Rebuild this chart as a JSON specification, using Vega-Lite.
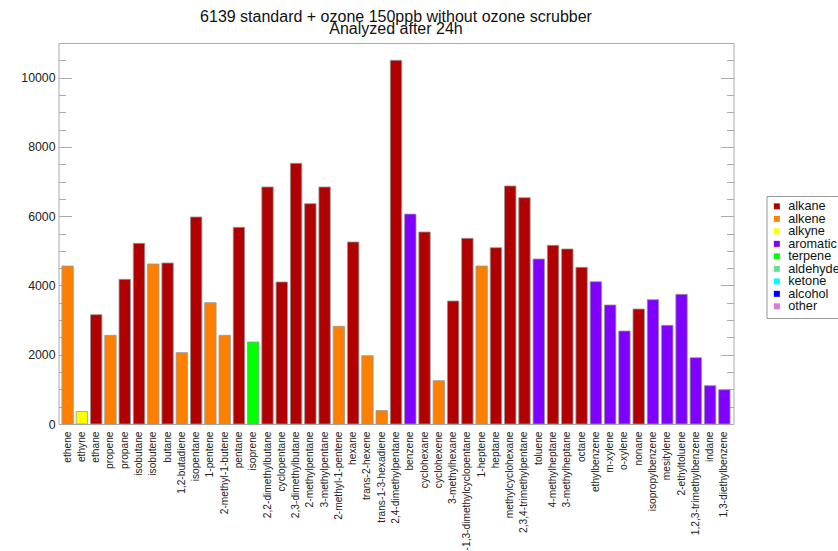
{
  "$schema": "https://vega.github.io/schema/vega-lite/v6.json",
  "autosize": {"type": "none"},
  "width": 675,
  "height": 381,
  "padding": {"left": 58.5, "top": 43, "right": 105, "bottom": 127},
  "background": "white",
  "title": {
    "text": ["6139 standard + ozone 150ppb without ozone scrubber", "Analyzed after 24h"],
    "font": "Liberation Sans",
    "fontSize": 16,
    "fontWeight": "normal",
    "color": "#111111",
    "lineHeight": 12.5,
    "anchor": "middle",
    "baseline": "bottom",
    "offset": -10
  },
  "config": {
    "view": {"stroke": "#aaaaaa", "strokeWidth": 1},
    "font": "Liberation Sans",
    "legend": {"rowPadding": -1.5, "gridAlign": "none"}
  },
  "data": {
    "values": [
      {"compound": "ethene", "class": "alkene", "area": 4560},
      {"compound": "ethyne", "class": "alkyne", "area": 360},
      {"compound": "ethane", "class": "alkane", "area": 3157},
      {"compound": "propene", "class": "alkene", "area": 2560},
      {"compound": "propane", "class": "alkane", "area": 4177},
      {"compound": "isobutane", "class": "alkane", "area": 5216},
      {"compound": "isobutene", "class": "alkene", "area": 4620},
      {"compound": "butane", "class": "alkane", "area": 4649},
      {"compound": "1,2-butadiene", "class": "alkene", "area": 2060},
      {"compound": "isopentane", "class": "alkane", "area": 5977},
      {"compound": "1-pentene", "class": "alkene", "area": 3503},
      {"compound": "2-methyl-1-butene", "class": "alkene", "area": 2560},
      {"compound": "pentane", "class": "alkane", "area": 5679},
      {"compound": "isoprene", "class": "terpene", "area": 2368},
      {"compound": "2,2-dimethylbutane", "class": "alkane", "area": 6843},
      {"compound": "cyclopentane", "class": "alkane", "area": 4100},
      {"compound": "2,3-dimethylbutane", "class": "alkane", "area": 7526},
      {"compound": "2-methylpentane", "class": "alkane", "area": 6362},
      {"compound": "3-methylpentane", "class": "alkane", "area": 6843},
      {"compound": "2-methyl-1-pentene", "class": "alkene", "area": 2820},
      {"compound": "hexane", "class": "alkane", "area": 5255},
      {"compound": "trans-2-hexene", "class": "alkene", "area": 1973},
      {"compound": "trans-1-3-hexadiene", "class": "alkene", "area": 390},
      {"compound": "2,4-dimethylpentane", "class": "alkane", "area": 10500},
      {"compound": "benzene", "class": "aromatic", "area": 6060},
      {"compound": "cyclohexane", "class": "alkane", "area": 5544},
      {"compound": "cyclohexene", "class": "alkene", "area": 1251},
      {"compound": "3-methylhexane", "class": "alkane", "area": 3552},
      {"compound": "trans-1,3-dimethylcyclopentane", "class": "alkane", "area": 5361},
      {"compound": "1-heptene", "class": "alkene", "area": 4562},
      {"compound": "heptane", "class": "alkane", "area": 5091},
      {"compound": "methylcyclohexane", "class": "alkane", "area": 6872},
      {"compound": "2,3,4-trimethylpentane", "class": "alkane", "area": 6535},
      {"compound": "toluene", "class": "aromatic", "area": 4764},
      {"compound": "4-methylheptane", "class": "alkane", "area": 5159},
      {"compound": "3-methylheptane", "class": "alkane", "area": 5053},
      {"compound": "octane", "class": "alkane", "area": 4524},
      {"compound": "ethylbenzene", "class": "aromatic", "area": 4110},
      {"compound": "m-xylene", "class": "aromatic", "area": 3436},
      {"compound": "o-xylene", "class": "aromatic", "area": 2685},
      {"compound": "nonane", "class": "alkane", "area": 3320},
      {"compound": "isopropylbenzene", "class": "aromatic", "area": 3590},
      {"compound": "mesitylene", "class": "aromatic", "area": 2849},
      {"compound": "2-ethyltoluene", "class": "aromatic", "area": 3744},
      {"compound": "1,2,3-trimethylbenzene", "class": "aromatic", "area": 1915},
      {"compound": "indane", "class": "aromatic", "area": 1107},
      {"compound": "1,3-diethylbenzene", "class": "aromatic", "area": 991}
    ]
  },
  "encoding": {
    "x": {
      "field": "compound",
      "type": "nominal",
      "sort": null,
      "scale": {"paddingInner": 0.2, "paddingOuter": 0.24},
      "axis": {
        "title": null,
        "labelAngle": -90,
        "labelFontSize": 10.2,
        "labelColor": "#222222",
        "labelPadding": 7,
        "ticks": false,
        "domain": false,
        "labelOverlap": false,
        "labelLimit": 0
      }
    },
    "y": {
      "field": "area",
      "type": "quantitative",
      "scale": {"domain": [0, 11000], "nice": false, "zero": true}
    }
  },
  "layer": [
    {
      "mark": {"type": "bar", "stroke": "#999999", "strokeWidth": 0.8},
      "encoding": {
        "color": {
          "field": "class",
          "type": "nominal",
          "scale": {
            "domain": ["alkane", "alkene", "alkyne", "aromatic", "terpene", "aldehyde", "ketone", "alcohol", "other"],
            "range": ["#b00000", "#ff8000", "#ffff00", "#8000ff", "#00ff00", "#66dd99", "#00ffff", "#0000ff", "#dd77dd"]
          },
          "legend": {
            "title": null,
            "orient": "none",
            "legendX": 708,
            "legendY": 153,
            "symbolType": "square",
            "symbolSize": 36,
            "symbolStrokeWidth": 0,
            "symbolOffset": 0,
            "labelFontSize": 12.7,
            "labelColor": "#111111",
            "labelOffset": 5,
            "rowPadding": -1.5,
            "padding": 4,
            "strokeColor": "#999999",
            "fillColor": "white"
          }
        },
        "y": {
          "field": "area",
          "type": "quantitative",
          "axis": {
            "orient": "left",
            "title": null,
            "domain": false,
            "grid": false,
            "values": [0, 500, 1000, 1500, 2000, 2500, 3000, 3500, 4000, 4500, 5000, 5500, 6000, 6500, 7000, 7500, 8000, 8500, 9000, 9500, 10000, 10500],
            "labelExpr": "datum.value % 2000 === 0 ? datum.label : ''",
            "format": "d",
            "tickColor": "#aaaaaa",
            "tickSize": {"condition": {"test": "datum.value % 2000 === 0", "value": -13}, "value": -7},
            "labelPadding": 16.5,
            "labelFontSize": 12.3,
            "labelColor": "#222222"
          }
        }
      }
    },
    {
      "mark": {"type": "bar", "fillOpacity": 0, "strokeOpacity": 0},
      "encoding": {
        "y": {
          "field": "area",
          "type": "quantitative",
          "axis": {
            "orient": "right",
            "title": null,
            "domain": false,
            "grid": false,
            "labels": false,
            "values": [0, 500, 1000, 1500, 2000, 2500, 3000, 3500, 4000, 4500, 5000, 5500, 6000, 6500, 7000, 7500, 8000, 8500, 9000, 9500, 10000, 10500],
            "tickColor": "#aaaaaa",
            "tickSize": {"condition": {"test": "datum.value % 2000 === 0", "value": -13}, "value": -7}
          }
        }
      }
    }
  ],
  "resolve": {"axis": {"y": "independent"}}
}
